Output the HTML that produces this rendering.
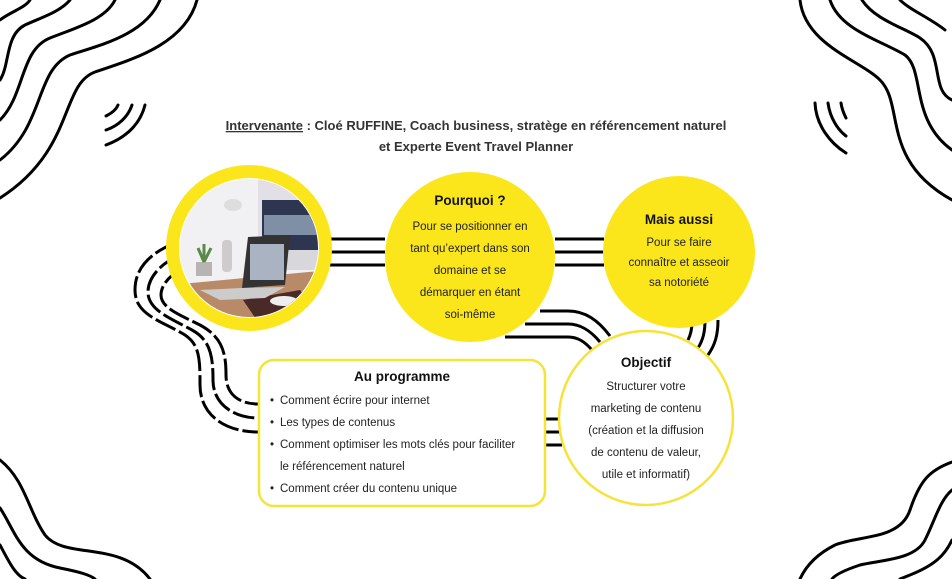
<!DOCTYPE html>
<html><head><meta charset="utf-8"><style>
html,body{margin:0;padding:0;background:#fff;}
svg{display:block;}
text{font-family:"Liberation Sans",sans-serif;fill:#222;}
.t{font-size:11.5px;text-anchor:middle;}
.h{font-size:13.5px;font-weight:bold;text-anchor:middle;fill:#111;}
.w{fill:none;stroke:#000;stroke-width:3;stroke-linecap:round;}
.c{fill:none;stroke:#000;stroke-width:3;}
.d{fill:none;stroke:#000;stroke-width:3;stroke-dasharray:22 4;}
</style></head><body>
<svg width="952" height="579" viewBox="0 0 952 579" xmlns="http://www.w3.org/2000/svg">
<g class="w">
<path d="M197,0 C185,45 130,60 95,72 C60,85 75,150 0,198"/>
<path d="M160,0 C145,35 100,45 70,55 C35,70 45,125 0,160"/>
<path d="M115,0 C105,20 75,28 50,38 C20,50 25,95 0,120"/>
<path d="M70,0 C60,12 40,18 25,25 C5,35 10,65 0,80"/>
<path d="M30,0 C25,8 10,12 0,20"/>
<path d="M145,105 C140,125 125,138 106,145" />
<path d="M132,105 C128,117 118,126 106,130" />
<path d="M118,105 C116,110 110,114 106,116" />
</g>
<g class="w">
<path d="M800,0 C805,45 860,60 880,80 C905,105 880,160 952,200"/>
<path d="M830,0 C840,30 880,40 905,55 C925,70 910,120 952,150"/>
<path d="M862,0 C875,20 905,28 920,38 C945,55 930,90 952,100"/>
<path d="M900,0 C910,10 930,18 945,30"/>
<path d="M815,103 C816,125 830,143 846,153"/>
<path d="M828,103 C830,118 838,130 846,136"/>
<path d="M841,103 C842,110 844,114 846,118"/>
</g>
<g class="w">
<path d="M0,460 C25,480 28,510 45,535 C65,560 120,540 150,579"/>
<path d="M0,508 C15,530 20,560 60,568 C80,572 90,575 95,579"/>
<path d="M0,545 C8,560 15,575 25,579"/>
</g>
<g class="w">
<path d="M952,462 C930,470 920,480 910,510 C900,540 860,535 835,545 C815,555 805,568 800,579"/>
<path d="M952,490 C940,500 935,520 925,540 C915,560 880,560 860,565 C845,570 835,575 832,579"/>
<path d="M952,540 C945,555 935,565 910,575 L900,579"/>
</g>

<text x="476" y="130" style="font-size:13px;text-anchor:middle;font-weight:bold;fill:#333"><tspan text-decoration="underline">Intervenante</tspan> : Cloé RUFFINE, Coach business, stratège en référencement naturel</text>
<text x="476" y="151" style="font-size:13px;text-anchor:middle;font-weight:bold;fill:#333">et Experte Event Travel Planner</text>

<g class="c">
<path d="M330,239 H385 M330,252 H385 M330,265 H385"/>
<path d="M555,239 H604 M555,252 H604 M555,265 H604"/>
<path d="M540,311 H568 C585,311 598,320 610,336"/>
<path d="M525,324 H568 C580,324 590,330 600,342"/>
<path d="M505,337 H568 C578,337 585,342 592,350"/>
<path d="M718,320 C718,335 715,345 708,355"/>
<path d="M705,320 C705,332 703,340 698,348"/>
<path d="M692,322 C692,330 690,336 688,340"/>
<path d="M545,419 H565 M545,432 H562 M545,445 H562"/>
</g>
<g class="d">
<path d="M175,243 C150,253 135,268 135,290 C135,315 160,320 185,335 C200,345 200,360 200,385 C200,415 225,432 258,432"/>
<path d="M178,256 C160,264 148,278 148,292 C148,310 170,318 192,330 C210,340 213,355 213,380 C213,405 235,418 258,418"/>
<path d="M182,269 C170,275 161,285 161,295 C161,308 180,315 200,325 C222,337 226,352 226,375 C226,395 240,404 258,404"/>
</g>

<defs><clipPath id="cp"><circle cx="249" cy="248" r="69"/></clipPath></defs>
<circle cx="249" cy="248" r="83" fill="#fbe61c"/>
<circle cx="249" cy="248" r="70" fill="#fff"/>
<g clip-path="url(#cp)">
<rect x="170" y="170" width="160" height="160" fill="#f1f0f2"/>
<rect x="258" y="180" width="80" height="80" fill="#e2dfe6"/>
<rect x="262" y="200" width="70" height="50" fill="#2e3550"/>
<rect x="264" y="215" width="66" height="20" fill="#7f8fa6"/>
<rect x="260" y="250" width="72" height="20" fill="#d8d8dc"/>
<polygon points="170,285 330,270 330,330 170,330" fill="#b88a68"/>
<polygon points="243,300 300,290 315,310 258,322" fill="#4a2a26"/>
<ellipse cx="284" cy="301" rx="14" ry="5" fill="#eee"/>
<polygon points="248,237 290,235 285,285 242,288" fill="#333"/>
<rect x="250" y="244" width="34" height="36" fill="#aab3c2"/>
<polygon points="200,290 242,288 285,287 265,298 220,300" fill="#ccc"/>
<rect x="222" y="240" width="10" height="32" rx="4" fill="#cfcacb"/>
<rect x="196" y="262" width="16" height="14" fill="#b9b4b4"/>
<path d="M204,262 L198,248 M204,262 L204,244 M204,262 L211,248" stroke="#5a8a4a" stroke-width="3"/>
<ellipse cx="233" cy="205" rx="9" ry="6" fill="#ddd"/>
</g>

<circle cx="470" cy="257" r="85" fill="#fbe61c"/>
<text class="h" x="470" y="205">Pourquoi ?</text>
<text class="t" x="470" y="230">Pour se positionner en</text>
<text class="t" x="470" y="252">tant qu’expert dans son</text>
<text class="t" x="470" y="274">domaine et se</text>
<text class="t" x="470" y="296">démarquer en étant</text>
<text class="t" x="470" y="318">soi-même</text>

<circle cx="679" cy="252" r="76" fill="#fbe61c"/>
<text class="h" x="679" y="224">Mais aussi</text>
<text class="t" x="679" y="246">Pour se faire</text>
<text class="t" x="679" y="266">connaître et asseoir</text>
<text class="t" x="679" y="286">sa notoriété</text>

<circle cx="646" cy="418" r="87" fill="#fff" stroke="#f5e33a" stroke-width="2.5"/>
<text class="h" x="646" y="367">Objectif</text>
<text class="t" x="646" y="390">Structurer votre</text>
<text class="t" x="646" y="412">marketing de contenu</text>
<text class="t" x="646" y="434">(création et la diffusion</text>
<text class="t" x="646" y="456">de contenu de valeur,</text>
<text class="t" x="646" y="478">utile et informatif)</text>

<rect x="259" y="360" width="286" height="146" rx="15" fill="#fff" stroke="#f5e33a" stroke-width="2.5"/>
<text class="h" x="402" y="381">Au programme</text>
<g style="font-size:11.5px">
<text x="270" y="404">•</text><text x="280" y="404">Comment écrire pour internet</text>
<text x="270" y="426">•</text><text x="280" y="426">Les types de contenus</text>
<text x="270" y="448">•</text><text x="280" y="448">Comment optimiser les mots clés pour faciliter</text>
<text x="280" y="470">le référencement naturel</text>
<text x="270" y="492">•</text><text x="280" y="492">Comment créer du contenu unique</text>
</g>
</svg>
</body></html>
